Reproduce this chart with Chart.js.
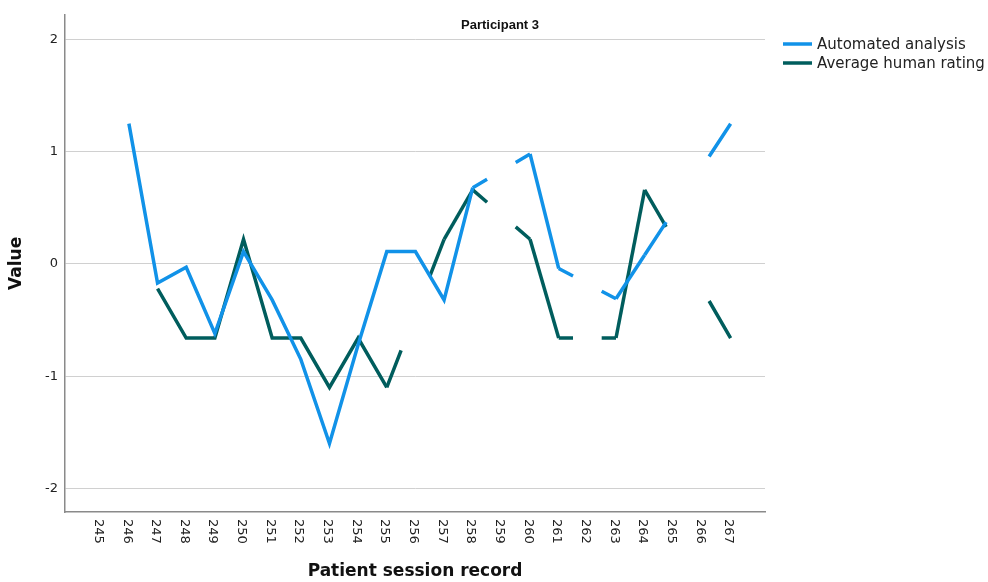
<!DOCTYPE html>
<html>
<head>
<meta charset="utf-8">
<script src="https://cdn.jsdelivr.net/npm/chart.js@4/dist/chart.umd.min.js"></script>
<style>
  html, body { margin: 0; padding: 0; background: #ffffff; }
  canvas { display: block; }
</style>
</head>
<body>
<canvas id="chart" width="988" height="582"></canvas>
<script>
// Session records on the x axis
const sessions = [245, 246, 247, 248, 249, 250, 251, 252, 253, 254, 255, 256,
                  257, 258, 259, 260, 261, 262, 263, 264, 265, 266, 267];

// Scores per session (null = no rating for that session)
const automatedAnalysis = [null, 1.25, -0.17, -0.03, -0.62, 0.11, -0.32, -0.85, -1.6, -0.72, 0.11, 0.11,
                           -0.32, 0.68, null, 0.98, -0.04, null, -0.31, 0.08, null, null, 1.25];
const averageHumanRating = [null, null, -0.22, -0.66, -0.66, 0.22, -0.66, -0.66, -1.1, -0.66, -1.1, null,
                            0.22, 0.66, null, 0.22, -0.66, null, -0.66, 0.66, null, null, -0.66];

const yTicks = [-2, -1, 0, 1, 2];
const seriesNames = ['Automated analysis', 'Average human rating'];
const seriesColors = ['#1192e8', '#005d5d'];
const chartTitle = 'Participant 3';
const xTitle = 'Patient session record';
const yTitle = 'Value';

const toPoints = vals => sessions.map((s, i) => ({ x: s, y: vals[i] }));

// Across a missing session the line is drawn only near its two ends:
// first quarter, skip the middle half, last quarter.
function gapDash(ctx) {
  if (!ctx.p0.skip && !ctx.p1.skip) return undefined;
  const pts = ctx.chart.getDatasetMeta(ctx.datasetIndex).data;
  let a = ctx.p0DataIndex, b = ctx.p1DataIndex;
  while (a > 0 && pts[a].skip) a--;
  while (b < pts.length - 1 && pts[b].skip) b++;
  if (pts[a].skip || pts[b].skip) return undefined;
  const len = Math.hypot(pts[b].x - pts[a].x, pts[b].y - pts[a].y);
  return [len / 4, len / 2];
}

const labelsPlugin = {
  id: 'extraText',
  afterDraw(chart) {
    const { ctx } = chart;
    const xs = chart.scales.x;
    ctx.save();
    // x tick labels, turned a quarter clockwise
    ctx.fillStyle = '#222222';
    ctx.font = '13px "DejaVu Sans"';
    ctx.textAlign = 'left';
    ctx.textBaseline = 'middle';
    sessions.forEach(s => {
      const px = xs.getPixelForValue(s) - 2;
      ctx.save();
      ctx.translate(px, chart.chartArea.bottom + 7);
      ctx.rotate(Math.PI / 2);
      ctx.fillText(String(s), 0, 0);
      ctx.restore();
    });
    // chart title
    ctx.fillStyle = '#111111';
    ctx.font = 'bold 13px "Liberation Sans"';
    ctx.textAlign = 'center';
    ctx.fillText(chartTitle, 500, 25);
    // legend
    ctx.textAlign = 'left';
    ctx.font = '15px "DejaVu Sans"';
    seriesNames.forEach((name, i) => {
      const y = 44 + i * 19;
      ctx.strokeStyle = seriesColors[i];
      ctx.lineWidth = 3.5;
      ctx.beginPath();
      ctx.moveTo(783, y);
      ctx.lineTo(812, y);
      ctx.stroke();
      ctx.fillStyle = '#222222';
      ctx.fillText(name, 817, y + 1);
    });
    ctx.restore();
  }
};

new Chart(document.getElementById('chart'), {
  type: 'line',
  data: {
    datasets: [
      {
        label: seriesNames[0],
        data: toPoints(automatedAnalysis),
        borderColor: seriesColors[0],
        backgroundColor: seriesColors[0],
        borderWidth: 3.5,
        pointRadius: 0,
        tension: 0,
        spanGaps: true,
        segment: { borderDash: gapDash }
      },
      {
        label: seriesNames[1],
        data: toPoints(averageHumanRating),
        borderColor: seriesColors[1],
        backgroundColor: seriesColors[1],
        borderWidth: 3.5,
        pointRadius: 0,
        tension: 0,
        spanGaps: true,
        segment: { borderDash: gapDash }
      }
    ]
  },
  options: {
    responsive: false,
    animation: false,
    layout: { padding: { top: 12, right: 223, left: 0, bottom: 0 } },
    plugins: {
      legend: { display: false },
      title: { display: false },
      tooltip: { enabled: false }
    },
    scales: {
      x: {
        type: 'linear',
        min: 243.77,
        max: 268.2,
        afterFit: s => { s.height = 70; },
        grid: { display: false, drawTicks: false },
        border: { display: true, color: '#8a8a8a', width: 1.5 },
        ticks: { display: false, stepSize: 1, includeBounds: false },
        title: {
          display: true,
          text: xTitle,
          color: '#111111',
          font: { family: 'DejaVu Sans', size: 17, weight: 'bold', lineHeight: 1 },
          padding: { top: 0, bottom: 2 }
        }
      },
      y: {
        type: 'linear',
        min: -2.21,
        max: 2.22,
        afterFit: s => { s.width = 65; },
        afterBuildTicks: s => { s.ticks = yTicks.map(v => ({ value: v })); },
        grid: { color: '#d0d0d0', lineWidth: 1, drawTicks: false },
        border: { display: true, color: '#8a8a8a', width: 1.5 },
        ticks: {
          color: '#222222',
          padding: 7,
          font: { family: 'DejaVu Sans', size: 13 }
        },
        title: {
          display: true,
          text: yTitle,
          color: '#111111',
          font: { family: 'DejaVu Sans', size: 17, weight: 'bold', lineHeight: 1 },
          padding: { top: 8, bottom: 0 }
        }
      }
    }
  },
  plugins: [labelsPlugin]
});
</script>
</body>
</html>
